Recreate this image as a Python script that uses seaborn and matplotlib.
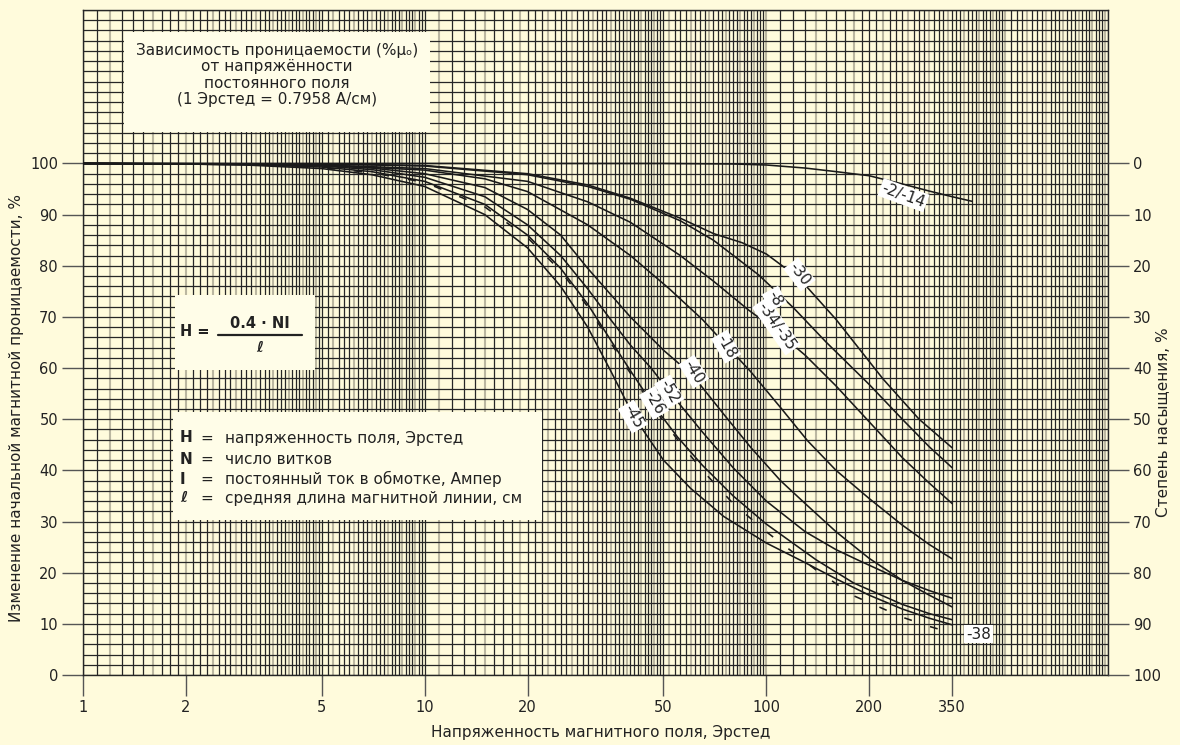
import numpy as np
import pandas as pd
import matplotlib
matplotlib.use("Agg")
import matplotlib.pyplot as plt
import seaborn as sns
from matplotlib.patches import Rectangle
from matplotlib.ticker import NullLocator

# ---------------- data ----------------
curve_names = ["-2/-14", "-30", "-34/-35", "-8", "-18", "-40", "-52", "-26", "-45", "-38"]

h_2_14 = [1, 50, 80, 100, 130, 160, 200, 250, 300, 350, 400]
v_2_14 = [100, 100, 99.9, 99.7, 99.1, 98.4, 97.6, 96.0, 94.6, 93.5, 92.6]

h_30 = [1, 5, 10, 20, 30, 40, 56, 70, 85, 100, 125, 160, 220, 280, 350]
v_30 = [100, 99.9, 99.6, 98.0, 95.8, 93.2, 89.3, 86.3, 84.5, 82.3, 77.5, 69.5, 57.8, 50.0, 44.4]

h_34 = [1, 5, 10, 20, 30, 40, 56, 70, 88.5, 106, 130, 160, 200, 250, 300, 350]
v_34 = [100, 99.7, 99.0, 96.5, 92.5, 88.5, 82.0, 77.0, 71.4, 67.5, 62.5, 56.5, 49.5, 42.5, 37.5, 33.5]

h_8 = [1, 5, 10, 20, 30, 40, 56, 70, 95, 120, 150, 200, 250, 300, 350]
v_8 = [100, 99.9, 99.5, 97.8, 95.5, 93.0, 88.8, 85.0, 78.2, 71.8, 65.0, 56.8, 50.0, 44.6, 40.5]

h_18 = [1, 3, 5, 10, 15, 20, 30, 40, 52, 65, 75, 90, 110, 132, 160, 200, 250, 300, 350]
v_18 = [100, 99.9, 99.7, 98.7, 97.0, 94.5, 88.0, 82.0, 75.5, 69.5, 65.0, 59.3, 52.3, 45.8, 40.0, 34.5, 29.3, 25.5, 22.7]

h_40 = [1, 3, 5, 7, 10, 15, 20, 25, 30, 40, 50, 61, 75, 90, 110, 130, 160, 200, 250, 300, 350]
v_40 = [100, 99.9, 99.6, 99.1, 98.0, 95.3, 91.0, 86.0, 79.5, 70.0, 63.5, 58.5, 51.0, 44.5, 38.0, 33.5, 28.0, 22.8, 18.5, 15.6, 13.3]

h_52 = [1, 3, 5, 7, 10, 15, 20, 25, 30, 35, 40, 46, 52, 65, 80, 100, 130, 160, 185, 250, 300, 350]
v_52 = [100, 99.8, 99.5, 98.8, 97.3, 93.5, 88.0, 82.0, 75.5, 69.5, 64.5, 60.0, 55.4, 47.5, 40.5, 34.0, 28.0, 24.5, 22.5, 18.5, 16.5, 15.0]

h_26 = [1, 3, 5, 7, 10, 15, 20, 25, 30, 35, 40, 47, 55, 65, 80, 100, 140, 180, 250, 300, 350]
v_26 = [100, 99.8, 99.3, 98.4, 96.5, 92.0, 86.0, 79.5, 72.5, 65.5, 59.5, 52.5, 46.5, 41.0, 35.0, 29.5, 22.5, 18.0, 13.8, 12.0, 10.8]

h_45 = [1, 2, 3, 5, 7, 10, 15, 20, 25, 30, 35, 41, 50, 60, 75, 100, 127, 160, 200, 250, 300, 350]
v_45 = [100, 99.9, 99.7, 99.0, 97.8, 95.5, 90.0, 83.5, 76.0, 68.0, 59.5, 50.5, 42.0, 36.5, 31.0, 25.8, 22.3, 18.8, 15.6, 12.9, 11.1, 9.8]

h_38 = [1, 3, 5, 7, 10, 15, 20, 25, 30, 35, 40, 47, 55, 65, 80, 100, 140, 180, 250, 300, 350]
v_38 = [100, 99.8, 99.2, 98.2, 96.3, 91.5, 85.5, 79.0, 72.0, 65.0, 59.0, 52.0, 46.0, 40.0, 33.5, 28.0, 20.5, 15.5, 11.3, 9.5, 8.2]

curve_h = [h_2_14, h_30, h_34, h_8, h_18, h_40, h_52, h_26, h_45, h_38]
curve_v = [v_2_14, v_30, v_34, v_8, v_18, v_40, v_52, v_26, v_45, v_38]

# curve label anchors (H, %) and rotation
label_h = [252, 125, 107, 105.5, 76.3, 61.3, 52, 46.9, 40.7, 418]
label_v = [93.8, 78.3, 68.2, 73.6, 64.2, 59.3, 55.4, 53.2, 50.5, 8.0]
label_rot = [-20, -52, -55, -62, -60, -58, -60, -60, -60, 0]

x_ticks = [1, 2, 5, 10, 20, 50, 100, 200, 350]
x_ticklabels = ["1", "2", "5", "10", "20", "50", "100", "200", "350"]
y_ticks = [0, 10, 20, 30, 40, 50, 60, 70, 80, 90, 100]
y_ticklabels_left = [str(v) for v in y_ticks]
y_ticklabels_right = ["100", "90", "80", "70", "60", "50", "40", "30", "20", "10", "0"]

title_text = "Зависимость проницаемости (%μₒ)\nот напряжённости\nпостоянного поля\n(1 Эрстед = 0.7958 А/см)"
legend_syms = ["H", "N", "I", "ℓ"]
legend_desc = ["напряженность поля, Эрстед", "число витков",
               "постоянный ток в обмотке, Ампер", "средняя длина магнитной линии, см"]
xlabel = "Напряженность магнитного поля, Эрстед"
ylabel_left = "Изменение начальной магнитной проницаемости, %"
ylabel_right = "Степень насыщения, %"

# ---------------- style ----------------
sns.set_theme(style="white")
plt.rcParams['font.family'] = ['DejaVu Sans']

BG = '#FFFBDC'
BOX = '#FFFDE8'
DARK = '#262626'
GRAY = '#8f8a7a'
TXT = '#222222'

W, H = 1180, 745
fig = plt.figure(figsize=(W / 100, H / 100), dpi=100, facecolor=BG)
L, R, T, B = 83, 1108, 10, 675
ax = fig.add_axes([L / W, (H - B) / H, (R - L) / W, (B - T) / H])
ax.set_facecolor(BG)
ax.set_xscale('log')
ax.set_xlim(1, 1000)
ax.set_ylim(0, 130)

# ---------------- log-paper grid ----------------
vx = []
for d in [1, 10, 100]:
    vx += list(d * np.round(np.arange(1.0, 2.0, 0.1), 2))
    vx += list(d * np.round(np.arange(2.0, 5.0, 0.1), 2))
    vx += list(d * np.round(np.arange(5.0, 10.0, 0.2), 2))
vx.append(1000)
for i, x in enumerate(vx):
    if i % 4 == 2:
        ax.vlines(x, 0, 130, colors=GRAY, lw=1.5, alpha=0.6, zorder=1)
    else:
        ax.vlines(x, 0, 130, colors=DARK, lw=0.9, zorder=1)
for y in range(0, 131, 2):
    ax.hlines(y, 1, 1000, colors=DARK, lw=0.9, zorder=1)

# ---------------- boxes ----------------
def box(x0, x1, y0, y1):
    ax.add_patch(Rectangle(((x0 - L) / (R - L), (B - y1) / (B - T)),
                           (x1 - x0) / (R - L), (y1 - y0) / (B - T),
                           transform=ax.transAxes, fc=BOX, ec='none', zorder=2))

def axpos(px, py):
    return (px - L) / (R - L), (B - py) / (B - T)

box(124, 430, 32, 132)
box(175, 315, 295, 370)
box(173, 542, 412, 520)

ax.text(*axpos(277, 75), title_text, transform=ax.transAxes, ha='center', va='center',
        fontsize=11, color=TXT, linespacing=1.12, zorder=5)

# formula
ax.text(*axpos(180, 331), "H =", transform=ax.transAxes, ha='left', va='center',
        fontsize=10.5, fontweight='bold', color=TXT, zorder=5)
ax.text(*axpos(260, 324), "0.4 · NI", transform=ax.transAxes, ha='center', va='center',
        fontsize=10.5, fontweight='bold', color=TXT, zorder=5)
x0, y0 = axpos(218, 335)
x1, _ = axpos(302, 335)
ax.plot([x0, x1], [y0, y0], transform=ax.transAxes, color=TXT, lw=1.6, zorder=5)
ax.text(*axpos(260, 347), "ℓ", transform=ax.transAxes, ha='center', va='center',
        fontsize=10.5, fontweight='bold', fontstyle='italic', color=TXT, zorder=5)

# legend of symbols
for sym, desc, py in zip(legend_syms, legend_desc, [438, 459, 479, 498]):
    ax.text(*axpos(180, py), sym, transform=ax.transAxes, ha='left', va='center', fontsize=11,
            fontweight='bold', fontstyle='italic' if sym == "ℓ" else 'normal', color=TXT, zorder=5)
    ax.text(*axpos(207, py), "=", transform=ax.transAxes, ha='center', va='center',
            fontsize=11, color=TXT, zorder=5)
    ax.text(*axpos(225, py), desc, transform=ax.transAxes, ha='left', va='center',
            fontsize=11, color=TXT, zorder=5)

# ---------------- curves ----------------
rows = []
for name, hs, vs in zip(curve_names, curve_h, curve_v):
    for hh, vv in zip(hs, vs):
        rows.append((name, hh, vv))
df = pd.DataFrame(rows, columns=["curve", "H", "mu"])

for name in curve_names:
    sub = df[df.curve == name]
    ls = (0, (5, 12)) if name == "-38" else '-'
    sns.lineplot(data=sub, x="H", y="mu", ax=ax, color='#1a1a1a', lw=1.15,
                 linestyle=ls, estimator=None, sort=False, zorder=3, legend=False)

for k, (name, lh, lv, rot) in enumerate(zip(curve_names, label_h, label_v, label_rot)):
    ax.text(lh, lv, name, rotation=rot, rotation_mode='anchor', ha='center', va='center',
            fontsize=11, color=TXT, zorder=6 + k * 0.01,
            bbox=dict(boxstyle='square,pad=0.12', fc='white', ec='none'))

# ---------------- axes, ticks ----------------
ax.set_xlabel("")
ax.set_ylabel("")
ax.set_xticks(x_ticks)
ax.set_xticklabels(x_ticklabels)
ax.xaxis.set_minor_locator(NullLocator())
ax.set_yticks(y_ticks)
ax.set_yticklabels(y_ticklabels_left)
ax.yaxis.set_minor_locator(NullLocator())
ax.tick_params(axis='both', which='major', length=15, width=1, color='#555555',
               labelsize=10.5, labelcolor=TXT, pad=3, direction='out')
ax.tick_params(axis='x', bottom=True)
ax.tick_params(axis='y', left=True)
for sp in ax.spines.values():
    sp.set_color(DARK)
    sp.set_linewidth(1.0)
    sp.set_visible(True)

ax2 = ax.twinx()
ax2.set_ylim(0, 130)
ax2.set_yticks(y_ticks)
ax2.set_yticklabels(y_ticklabels_right)
ax2.yaxis.set_minor_locator(NullLocator())
ax2.tick_params(axis='y', length=15, width=1, color='#555555', labelsize=10.5,
                labelcolor=TXT, pad=3, right=True, direction='out')
ax2.patch.set_visible(False)
for sp in ax2.spines.values():
    sp.set_visible(False)
ax2.grid(False)
ax.grid(False)

fig.text(601 / W, 1 - 733 / H, xlabel, ha='center', va='center', fontsize=11, color=TXT)
fig.text(17 / W, 1 - 408 / H, ylabel_left, ha='center', va='center', rotation=90,
         fontsize=11, color=TXT)
fig.text(1163 / W, 1 - 422 / H, ylabel_right, ha='center', va='center', rotation=90,
         fontsize=11, color=TXT)

fig.savefig("out.png", dpi=100, facecolor=BG)
